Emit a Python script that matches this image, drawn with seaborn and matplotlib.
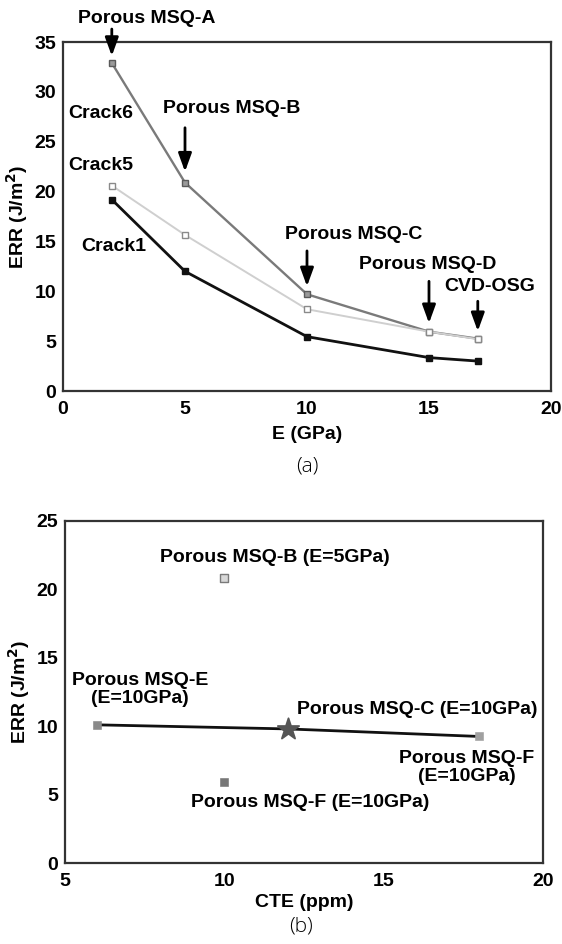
import numpy as np
import pandas as pd
import matplotlib
matplotlib.use("Agg")
import matplotlib.pyplot as plt
import seaborn as sns

# ---- data: (a) energy release rate vs. modulus ----
modulus_gpa = [2, 5, 10, 15, 17]
crack6_err = [32.9, 20.9, 9.7, 5.95, 5.25]
crack5_err = [20.6, 15.65, 8.2, 5.95, 5.2]
crack1_err = [19.2, 12.0, 5.45, 3.35, 3.0]
film_names_a = ["Porous MSQ-A", "Porous MSQ-B", "Porous MSQ-C", "Porous MSQ-D", "CVD-OSG"]

# ---- data: (b) energy release rate vs. CTE ----
trend_cte = [6, 12, 18]
trend_err = [10.1, 9.8, 9.25]
msq_b_point = (10, 20.8)
msq_f_low_point = (10, 5.9)

sns.set_style("white")
plt.rcParams["font.family"] = ["Liberation Sans", "DejaVu Sans"]
plt.rcParams["font.weight"] = "bold"
plt.rcParams["mathtext.default"] = "bf"
plt.rcParams["text.color"] = "black"
plt.rcParams["axes.labelcolor"] = "black"
plt.rcParams["xtick.labelcolor"] = "black"
plt.rcParams["ytick.labelcolor"] = "black"

fig = plt.figure(figsize=(5.62, 9.44), dpi=100)
ax1 = fig.add_axes([0.1121, 0.5858, 0.8683, 0.3697])
ax2 = fig.add_axes([0.1157, 0.0858, 0.8505, 0.3623])

FS = 14
TICK_FS = 14

def style_axes(ax):
    for sp in ax.spines.values():
        sp.set_color("#333333")
        sp.set_linewidth(1.6)
    ax.tick_params(axis="both", direction="in", length=6, width=1.2,
                   color="#888888", labelsize=TICK_FS, pad=5,
                   top=False, right=False)
    ax.tick_params(axis="x", pad=7)
    for lab in ax.get_xticklabels() + ax.get_yticklabels():
        lab.set_fontweight("bold")

# ---------------- (a) ----------------
df_a = pd.DataFrame({
    "E": modulus_gpa * 3,
    "ERR": crack6_err + crack5_err + crack1_err,
    "crack": ["Crack6"] * 5 + ["Crack5"] * 5 + ["Crack1"] * 5,
})
line_styles = {
    "Crack6": dict(color="#7a7a7a", lw=1.7, mfc="#9a9a9a", mec="#5a5a5a"),
    "Crack5": dict(color="#cfcfcf", lw=1.4, mfc="white", mec="#8a8a8a"),
    "Crack1": dict(color="#111111", lw=2.0, mfc="#111111", mec="#111111"),
}
for name, st in line_styles.items():
    sub = df_a[df_a["crack"] == name]
    sns.lineplot(data=sub, x="E", y="ERR", ax=ax1, color=st["color"],
                 linewidth=st["lw"], marker="s", markersize=4.5,
                 markerfacecolor=st["mfc"], markeredgecolor=st["mec"],
                 markeredgewidth=1.0, legend=False, zorder=3)

ax1.set_xlim(0, 20)
ax1.set_ylim(0, 35)
ax1.set_xticks([0, 5, 10, 15, 20])
ax1.set_yticks([0, 5, 10, 15, 20, 25, 30, 35])
ax1.set_xlabel("E (GPa)", fontsize=FS, fontweight="bold", labelpad=6)
ax1.set_ylabel(r"ERR (J/m$^{2}$)", fontsize=FS, fontweight="bold", labelpad=3)
style_axes(ax1)

ax1.text(1.55, 27.8, "Crack6", fontsize=FS, fontweight="bold", ha="center", va="center")
ax1.text(1.55, 22.6, "Crack5", fontsize=FS, fontweight="bold", ha="center", va="center")
ax1.text(2.1, 14.5, "Crack1", fontsize=FS, fontweight="bold", ha="center", va="center")

# film labels with arrows pointing at the Crack6 markers
label_pos = [(3.45, 37.4), (6.9, 28.3), (11.9, 15.7), (14.95, 12.7), (17.5, 10.5)]
arrow_span = [(36.3, 33.6), (26.4, 22.0), (14.05, 10.5), (11.0, 6.8), (9.0, 6.0)]
for name, xv, (tx, ty), (a0, a1) in zip(film_names_a, modulus_gpa, label_pos, arrow_span):
    ax1.text(tx, ty, name, fontsize=FS, fontweight="bold", ha="center",
             va="center", clip_on=False)
    ax1.annotate("", xy=(xv, a1), xytext=(xv, a0), annotation_clip=False,
                 arrowprops=dict(arrowstyle="-|>,head_length=1.1,head_width=0.4",
                                 color="black", lw=2.0,
                                 mutation_scale=10, shrinkA=0, shrinkB=0))

fig.text(0.5463, 0.5053, "(a)", fontsize=15, fontweight="light",
         family=["Open Sans", "DejaVu Sans"], ha="center", va="center")

# ---------------- (b) ----------------
sns.lineplot(x=trend_cte, y=trend_err, ax=ax2, color="#111111", linewidth=2.0,
             legend=False, zorder=2)
sns.scatterplot(x=[trend_cte[0]], y=[trend_err[0]], ax=ax2, marker="s", s=28,
                color="#8a8a8a", edgecolor="#8a8a8a", zorder=3)
sns.scatterplot(x=[trend_cte[1]], y=[trend_err[1]], ax=ax2, marker="*", s=260,
                color="#555555", edgecolor="#555555", zorder=4)
sns.scatterplot(x=[trend_cte[2]], y=[trend_err[2]], ax=ax2, marker="s", s=28,
                color="#a0a0a0", edgecolor="#a0a0a0", zorder=3)
sns.scatterplot(x=[msq_b_point[0]], y=[msq_b_point[1]], ax=ax2, marker="s", s=28,
                color="#d8d8d8", edgecolor="#7a7a7a", linewidth=1.0, zorder=3)
sns.scatterplot(x=[msq_f_low_point[0]], y=[msq_f_low_point[1]], ax=ax2, marker="s",
                s=28, color="#777777", edgecolor="#777777", zorder=3)

ax2.set_xlim(5, 20)
ax2.set_ylim(0, 25)
ax2.set_xticks([5, 10, 15, 20])
ax2.set_yticks([0, 5, 10, 15, 20, 25])
ax2.set_xlabel("CTE (ppm)", fontsize=FS, fontweight="bold", labelpad=3)
ax2.set_ylabel(r"ERR (J/m$^{2}$)", fontsize=FS, fontweight="bold", labelpad=3)
style_axes(ax2)

ax2.text(11.6, 22.3, "Porous MSQ-B (E=5GPa)", fontsize=FS, fontweight="bold",
         ha="center", va="center")
ax2.text(7.35, 12.7, "Porous MSQ-E\n(E=10GPa)", fontsize=FS, fontweight="bold",
         ha="center", va="center", linespacing=1.1)
ax2.text(16.05, 11.25, "Porous MSQ-C (E=10GPa)", fontsize=FS, fontweight="bold",
         ha="center", va="center")
ax2.text(17.6, 7.0, "Porous MSQ-F\n(E=10GPa)", fontsize=FS, fontweight="bold",
         ha="center", va="center", linespacing=1.1)
ax2.text(12.7, 4.45, "Porous MSQ-F (E=10GPa)", fontsize=FS, fontweight="bold",
         ha="center", va="center")

fig.text(0.5356, 0.0185, "(b)", fontsize=15, fontweight="light",
         family=["Open Sans", "DejaVu Sans"], ha="center", va="center")

fig.savefig("out.png", dpi=100)
